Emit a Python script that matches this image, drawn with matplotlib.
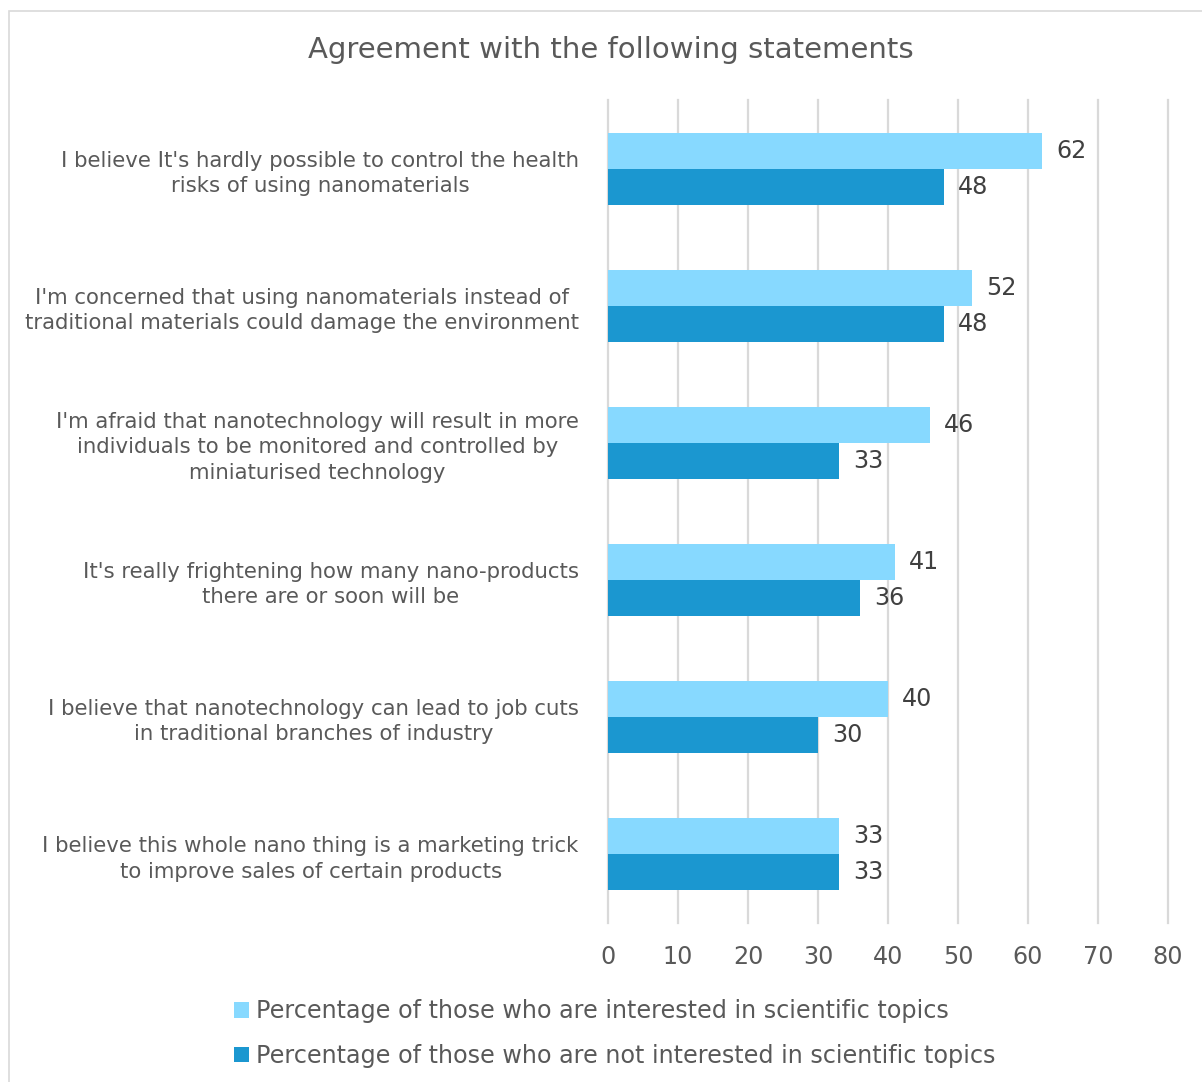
import matplotlib
matplotlib.use("Agg")
import matplotlib.pyplot as plt
from matplotlib.patches import Rectangle, Patch

plt.rcParams['font.family'] = ['DejaVu Sans']

statements = [
    "I believe It's hardly possible to control the health\nrisks of using nanomaterials",
    "I'm concerned that using nanomaterials instead of\ntraditional materials could damage the environment",
    "I'm afraid that nanotechnology will result in more\nindividuals to be monitored and controlled by\nminiaturised technology",
    "It's really frightening how many nano-products\nthere are or soon will be",
    "I believe that nanotechnology can lead to job cuts\nin traditional branches of industry",
    "I believe this whole nano thing is a marketing trick\nto improve sales of certain products",
]
interested = [62, 52, 46, 41, 40, 33]
not_interested = [48, 48, 33, 36, 30, 33]
series_names = [
    "Percentage of those who are interested in scientific topics",
    "Percentage of those who are not interested in scientific topics",
]
x_ticks = [0, 10, 20, 30, 40, 50, 60, 70, 80]

light = "#87D9FF"
dark = "#1B97D0"
text_grey = "#595959"
label_grey = "#404040"
grid_grey = "#D9D9D9"

W, H = 1202, 1082
fig = plt.figure(figsize=(W / 100, H / 100), dpi=100)

# outer chart frame (runs past the right and bottom edges)
fig.patches.append(Rectangle((9 / W, -0.1), 1.2, 1.1 - 11 / H, transform=fig.transFigure,
                             fill=False, edgecolor=grid_grey, linewidth=1.2))

ax = fig.add_axes([608 / W, 1 - 923 / H, 560 / W, 823 / H])

bar_h = 0.262
ypos = list(range(len(statements)))
b1 = ax.barh([y - bar_h / 2 for y in ypos], interested, height=bar_h, color=light, zorder=3)
b2 = ax.barh([y + bar_h / 2 for y in ypos], not_interested, height=bar_h, color=dark, zorder=3)

ax.bar_label(b1, labels=[str(v) for v in interested], padding=10, fontsize=17.2, color=label_grey)
ax.bar_label(b2, labels=[str(v) for v in not_interested], padding=10, fontsize=17.2, color=label_grey)

ax.set_xlim(0, 80)
ax.set_ylim(len(statements) - 0.5, -0.5)
ax.set_xticks(x_ticks)
ax.set_xticklabels([str(t) for t in x_ticks], fontsize=17.2, color=text_grey)
ax.set_yticks(ypos)
ax.set_yticklabels(statements, fontsize=15.3, color=text_grey, linespacing=1.32)
for lbl in ax.get_yticklabels():
    lbl.set_multialignment('center')
ax.tick_params(axis='both', length=0)
ax.tick_params(axis='x', pad=15.5)
ax.tick_params(axis='y', pad=21)
for s in ax.spines.values():
    s.set_visible(False)
ax.xaxis.grid(True, color=grid_grey, linewidth=1.6, zorder=0)
for gl in ax.get_xgridlines():
    gl.set_clip_on(False)
ax.set_axisbelow(True)

fig.text(611 / W, 1 - 50 / H, "Agreement with the following statements",
         ha='center', va='center', fontsize=21, color=text_grey)

handles = [Patch(facecolor=light), Patch(facecolor=dark)]
fig.legend(handles, series_names, loc='center left',
           bbox_to_anchor=(234 / W, 1 - 1033.5 / H), ncol=1, frameon=False,
           fontsize=17.2, labelcolor=text_grey, handlelength=0.62, handleheight=0.62,
           handletextpad=0.3, labelspacing=0.85, borderpad=0, borderaxespad=0)

fig.savefig("out.png", dpi=100)
